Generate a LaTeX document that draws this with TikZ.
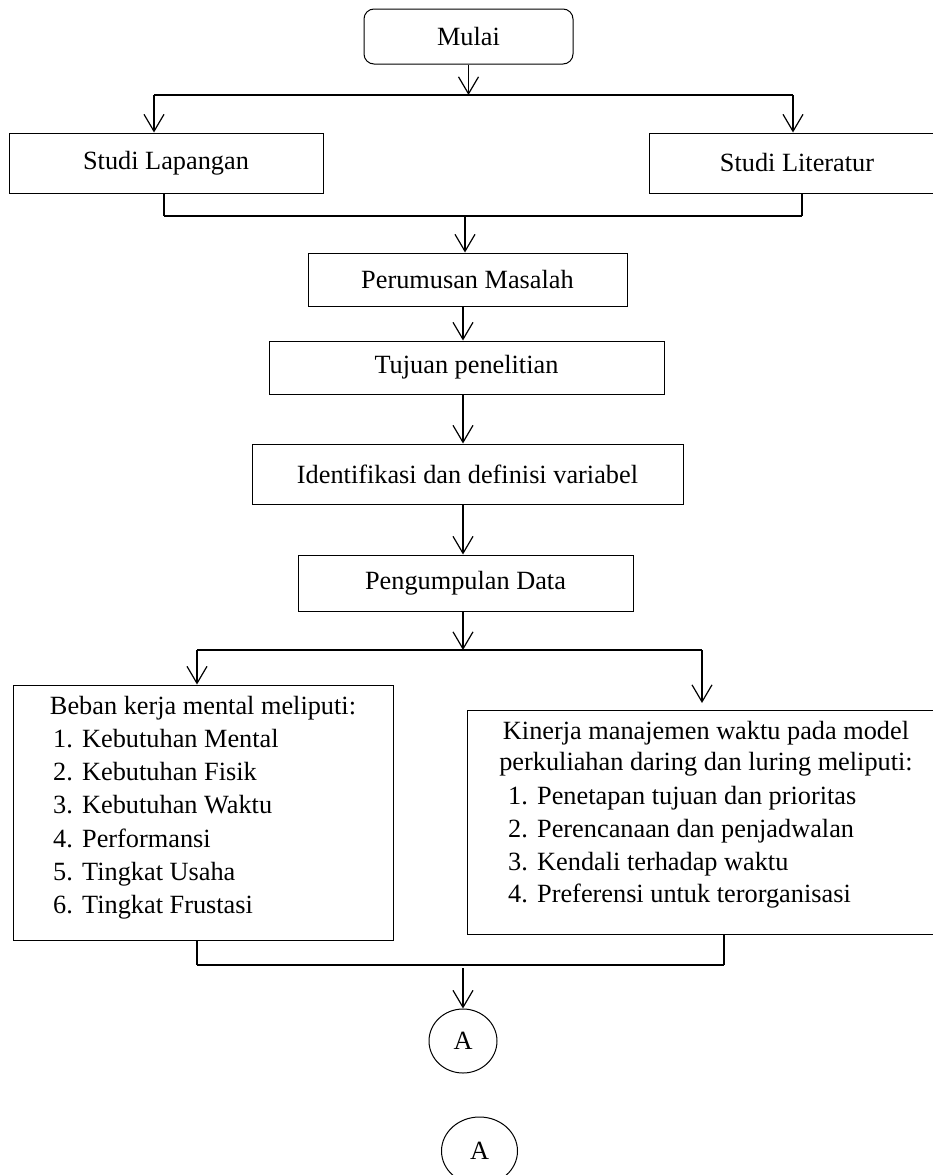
\documentclass[tikz,border=0pt]{standalone}
\usepackage{fontspec}
\setmainfont{Liberation Serif}
\usetikzlibrary{arrows.meta,shapes.geometric}
\newcommand\diagfont{\fontsize{26.3}{33}\selectfont}
\newcommand\itm[2]{\makebox[29pt][l]{#1}#2}
\begin{document}
\begin{tikzpicture}[x=1pt,y=-1pt,
  box/.style={draw,line width=1pt,inner sep=0pt,font=\diagfont},
  txt/.style={inner sep=0pt,font=\diagfont},
  arr/.style={line width=1.2pt,-{Straight Barb[length=17pt,width=20pt,line width=1.2pt]}},
  conn/.style={line width=1.2pt},
  bar/.style={line width=2pt}]
\useasboundingbox (0,0) rectangle (933,1175);
% nodes
\node[box,rounded corners=10pt,minimum width=209pt,minimum height=55pt] (mulai) at (468.5,36.5) {Mulai};
\node[box,minimum width=314pt,minimum height=60pt] (lap) at (166,163) {Studi Lapangan};
\node[box,minimum width=296pt,minimum height=60pt] (lit) at (797,163) {Studi Literatur};
\node[box,minimum width=319pt,minimum height=53pt] (rum) at (467.5,279.5) {Perumusan Masalah};
\node[box,minimum width=395pt,minimum height=53pt] (tuj) at (466.5,367.5) {Tujuan penelitian};
\node[box,minimum width=431pt,minimum height=60pt] (iden) at (467.5,474) {Identifikasi dan definisi variabel};
\node[box,minimum width=335pt,minimum height=56pt] (peng) at (465.5,583) {Pengumpulan Data};
\node[box,minimum width=380pt,minimum height=255pt] (llist) at (203,812.5) {};
\node[box,minimum width=478pt,minimum height=224pt] (rlist) at (706,822) {};
\node[box,ellipse,minimum width=68pt,minimum height=64pt] (A1) at (463,1041) {\raisebox{-3pt}{A}};
\node[box,ellipse,minimum width=76pt,minimum height=68pt] (A2) at (479.5,1151) {\raisebox{-3pt}{A}};
% list texts
\node[txt,anchor=mid] (lt) at (203,712) {Beban kerja mental meliputi:};
\node[txt,anchor=mid west] (l1) at (53,745) {\itm{1.}{Kebutuhan Mental}};
\node[txt,anchor=mid west] (l2) at (53,778) {\itm{2.}{Kebutuhan Fisik}};
\node[txt,anchor=mid west] (l3) at (53,811.5) {\itm{3.}{Kebutuhan Waktu}};
\node[txt,anchor=mid west] (l4) at (53,845) {\itm{4.}{Performansi}};
\node[txt,anchor=mid west] (l5) at (53,878) {\itm{5.}{Tingkat Usaha}};
\node[txt,anchor=mid west] (l6) at (53,911.5) {\itm{6.}{Tingkat Frustasi}};
\node[txt,anchor=mid] (rt1) at (706,737) {Kinerja manajemen waktu pada model};
\node[txt,anchor=mid] (rt2) at (706,768.5) {perkuliahan daring dan luring meliputi:};
\node[txt,anchor=mid west] (r1) at (508,802) {\itm{1.}{Penetapan tujuan dan prioritas}};
\node[txt,anchor=mid west] (r2) at (508,835) {\itm{2.}{Perencanaan dan penjadwalan}};
\node[txt,anchor=mid west] (r3) at (508,868) {\itm{3.}{Kendali terhadap waktu}};
\node[txt,anchor=mid west] (r4) at (508,900.5) {\itm{4.}{Preferensi untuk terorganisasi}};
% coordinates
\coordinate (cx) at (463,0);
\coordinate (s1L) at (154,95);
\coordinate (s1R) at (793,95);
\coordinate (j1L) at (164,216);
\coordinate (j1R) at (802,216);
\coordinate (j1M) at (465,216);
\coordinate (s2L) at (197,650);
\coordinate (s2R) at (702,650);
\coordinate (s2Re) at (702,703);
\coordinate (j2L) at (197,965);
\coordinate (j2R) at (724,965);
\coordinate (j2M) at (463,968);
% connectors
\draw[arr] (mulai.south) -- (mulai.south |- s1L);
\draw[bar] (s1L) -- (s1R);
\draw[arr] (s1L) -- (s1L |- lap.north);
\draw[arr] (s1R) -- (s1R |- lit.north);
\draw[conn] (lap.south -| j1L) -- (j1L);
\draw[conn] (lit.south -| j1R) -- (j1R);
\draw[bar] (j1L) -- (j1R);
\draw[arr] (j1M) -- (j1M |- rum.north);
\draw[arr] (rum.south -| cx) -- (tuj.north -| cx);
\draw[arr] (tuj.south -| cx) -- (iden.north -| cx);
\draw[arr] (iden.south -| cx) -- (peng.north -| cx);
\draw[arr] (peng.south -| cx) -- (cx |- s2L);
\draw[bar] (s2L) -- (s2R);
\draw[arr] (s2L) -- (s2L |- llist.north);
\draw[arr] (s2R) -- (s2Re);
\draw[conn] (llist.south -| j2L) -- (j2L);
\draw[conn] (rlist.south -| j2R) -- (j2R);
\draw[bar] (j2L) -- (j2R);
\draw[arr] (j2M) -- (A1.north);
\end{tikzpicture}
\end{document}
